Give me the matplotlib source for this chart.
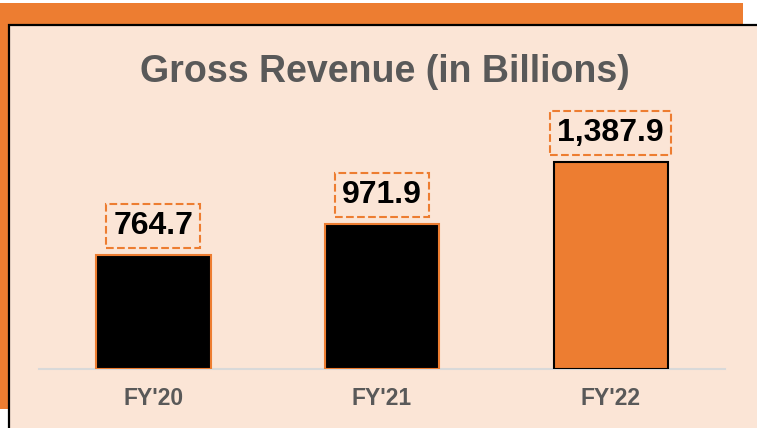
import matplotlib
matplotlib.use("Agg")
import matplotlib.pyplot as plt
from matplotlib.patches import Rectangle

plt.rcParams['font.family'] = ['Liberation Sans', 'DejaVu Sans']

# data
years = ["FY'20", "FY'21", "FY'22"]
revenue = [764.7, 971.9, 1387.9]
labels = ["764.7", "971.9", "1,387.9"]

orange = '#ED7D31'
peach = '#FBE5D6'
grey = '#595959'

W, H = 757, 428
fig = plt.figure(figsize=(W / 100, H / 100), dpi=100, facecolor='white')

# orange backdrop and peach panel behind the chart (pixel coords -> figure fraction)
def px_rect(x0, y0, x1, y1, **kw):
    r = Rectangle((x0 / W, 1 - y1 / H), (x1 - x0) / W, (y1 - y0) / H,
                  transform=fig.transFigure, **kw)
    fig.patches.append(r)

px_rect(0, 3, 743, 409, facecolor=orange, edgecolor='none', zorder=0)
px_rect(9, 25, 760, 431, facecolor=peach, edgecolor='black', linewidth=1.6, zorder=1)

fig.text(385 / W, 1 - 82 / H, 'Gross Revenue (in Billions)', ha='center', va='baseline',
         fontsize=27, fontweight='bold', color=grey)

ax = fig.add_axes([39 / W, 59 / H, 686 / W, 329 / H])
ax.set_facecolor('none')
ax.set_zorder(2)

fills = ['black', 'black', orange]
edges = [orange, orange, 'black']
x = range(len(years))
ax.bar(x, revenue, width=0.5, color=fills, edgecolor=edges, linewidth=1.5, zorder=3)

for i, v in enumerate(revenue):
    ax.annotate(labels[i], xy=(i, v), xytext=(0, 10), textcoords='offset points',
                ha='center', va='bottom', fontsize=23, fontweight='bold', color='black',
                bbox=dict(boxstyle='square,pad=0.22', facecolor='none', edgecolor=orange,
                          linestyle='--', linewidth=1.5))

ax.set_xlim(-0.5, 2.5)
ax.set_ylim(0, 2205)
for s in ['top', 'right', 'left']:
    ax.spines[s].set_visible(False)
ax.spines['bottom'].set_color('#D9D9D9')
ax.spines['bottom'].set_linewidth(1.5)
ax.set_yticks([])
ax.set_xticks(list(x))
ax.set_xticklabels(years, fontsize=16.5, fontweight='bold', color=grey)
ax.tick_params(axis='x', length=0, pad=13)

fig.savefig('out.png', dpi=100, facecolor='white')
